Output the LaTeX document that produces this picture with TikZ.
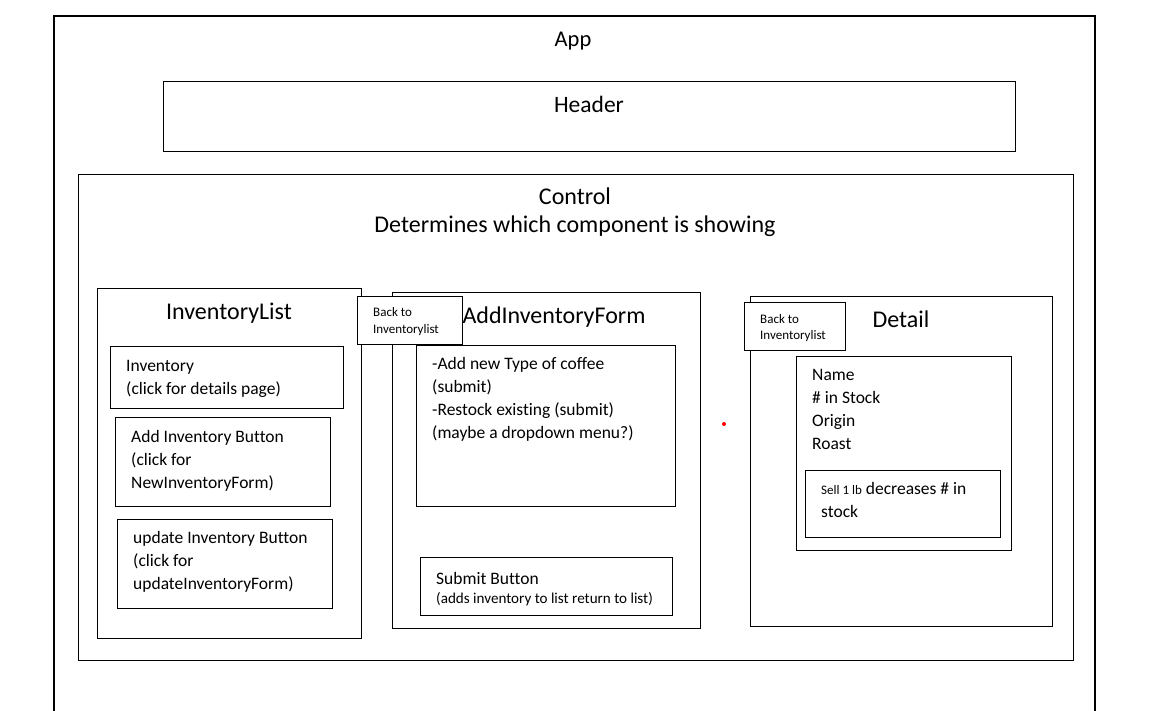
\documentclass[tikz,border=0pt]{standalone}
\usepackage{fontspec}
\setmainfont{Carlito}[Ligatures=NoCommon]
\usetikzlibrary{positioning}

\begin{document}
\begin{tikzpicture}[x=1pt,y=-1pt,
    box/.style={draw, line width=1pt, anchor=north west, inner sep=0pt},
    txt/.style={inner sep=0pt, anchor=base west, align=left,
      font=\fontsize{17.5}{23}\selectfont},
    small/.style={txt, font=\fontsize{13}{17}\selectfont},
    title/.style={inner sep=0pt, anchor=base, font=\fontsize{24}{28}\selectfont}]
  \useasboundingbox (0,0) rectangle (1157,711);

  % outer frames
  \node[box, line width=2pt, minimum width=1041, minimum height=720] (app) at (53,15) {};
  \node[title, font=\fontsize{22.5}{26}\selectfont] (apptitle) at (573,47) {App};
  \node[box, minimum width=852, minimum height=70] (header) at (163,81) {};
  \node[title, font=\fontsize{23.5}{28}\selectfont] (headertitle) at (589,113) {Header};
  \node[box, minimum width=995, minimum height=486] (control) at (78,174) {};
  \node[title] (controltitle) at (575,205) {Control};
  \node[title] (controlnote) at (575,233) {Determines which component is showing};

  % InventoryList
  \node[box, minimum width=264, minimum height=350] (invlist) at (97,288) {};
  \node[title] (invlisttitle) at (229,320) {InventoryList};
  \node[box, minimum width=233, minimum height=62] (inv) at (110,346) {};
  \node[txt] (invtext) at ([xshift=16,yshift=-48]inv.north west)
    {Inventory\\(click for details page)};
  \node[box, minimum width=215, minimum height=89] (addbtn) at (115,417) {};
  \node[txt] (addbtntext) at ([xshift=16,yshift=-71]addbtn.north west)
    {Add Inventory Button\\(click for\\NewInventoryForm)};
  \node[box, minimum width=215, minimum height=89] (updbtn) at (117,519) {};
  \node[txt] (updbtntext) at ([xshift=16,yshift=-70]updbtn.north west)
    {update Inventory Button\\(click for\\updateInventoryForm)};

  % AddInventoryForm
  \node[box, minimum width=308, minimum height=336] (addform) at (392,292) {};
  \node[title] (addformtitle) at (554,324) {AddInventoryForm};
  \node[box, minimum width=259, minimum height=161] (formbody) at (416,345) {};
  \node[txt] (formtext) at ([xshift=16,yshift=-93]formbody.north west)
    {-Add new Type of coffee\\(submit)\\-Restock existing (submit)\\(maybe a dropdown menu?)};
  \node[box, minimum width=252, minimum height=58] (submit) at (420,557) {};
  \node[txt] (submittext) at ([xshift=16,yshift=-46]submit.north west)
    {Submit Button\\[-4pt]{\fontsize{15.1}{19}\selectfont (adds inventory to list return to list)}};
  \node[box, fill=white, minimum width=105, minimum height=48] (back1) at (357,296) {};
  \node[small] (back1text) at ([xshift=16,yshift=-38]back1.north west)
    {Back to\\Inventorylist};

  % Detail
  \node[box, minimum width=302, minimum height=330] (detail) at (750,296) {};
  \node[title] (detailtitle) at (901,328) {Detail};
  \node[box, fill=white, minimum width=101, minimum height=48] (back2) at (744,302) {};
  \node[small] (back2text) at ([xshift=16,yshift=-38]back2.north west)
    {Back to\\Inventorylist};
  \node[box, minimum width=215, minimum height=194] (fields) at (796,356) {};
  \node[txt] (fieldstext) at ([xshift=16,yshift=-93]fields.north west)
    {Name\\\# in Stock\\Origin\\Roast};
  \node[box, minimum width=195, minimum height=67] (sell) at (805,470) {};
  \node[txt] (selltext) at ([xshift=16,yshift=-47]sell.north west)
    {{\fontsize{13}{17}\selectfont Sell 1 lb} decreases \# in\\stock};

  \fill[red] (724,424) circle (2);
\end{tikzpicture}
\end{document}
